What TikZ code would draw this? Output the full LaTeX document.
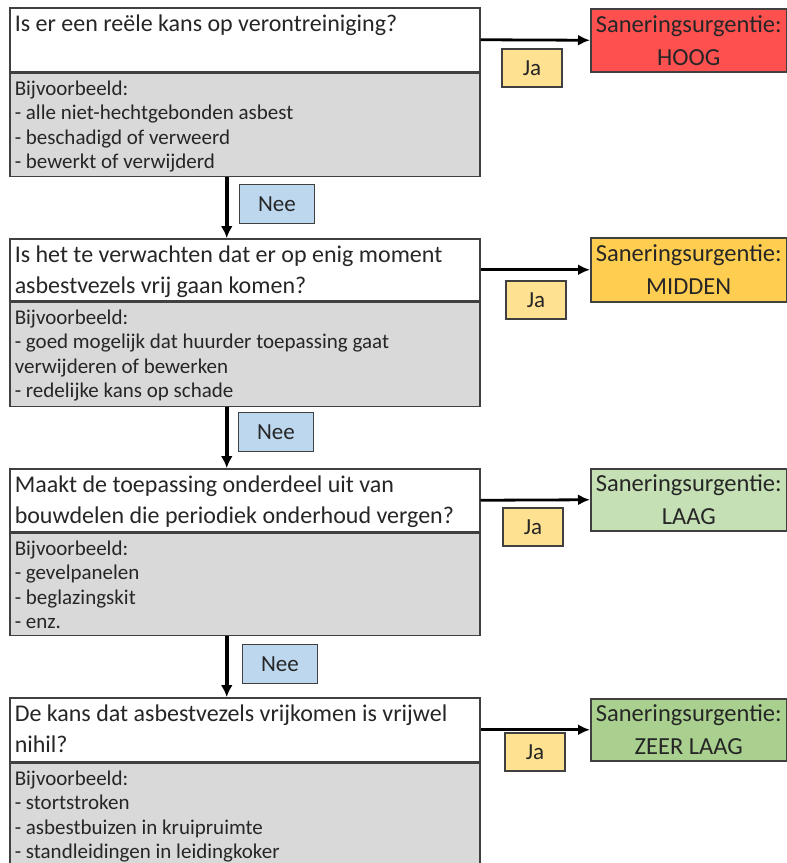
\documentclass[tikz,border=0pt]{standalone}
\usepackage{fontspec}
\setmainfont{Carlito}
\usepackage{xcolor}
\usepackage{tikz}
\usetikzlibrary{arrows.meta}
\definecolor{exgray}{RGB}{217,217,217}
\definecolor{hoog}{RGB}{255,80,80}
\definecolor{midden}{RGB}{255,205,80}
\definecolor{laag}{RGB}{197,224,180}
\definecolor{zeerlaag}{RGB}{169,208,142}
\definecolor{jafill}{RGB}{255,226,145}
\definecolor{neefill}{RGB}{189,215,238}
\definecolor{edge}{RGB}{64,64,64}
\tikzset{
  qbox/.style={draw=edge,line width=1.5pt,fill=white,anchor=north west,inner xsep=5pt,inner ysep=0pt,text=black!85,font=\fontsize{24}{31}\selectfont},
  exbox/.style={qbox,fill=exgray,font=\fontsize{21}{24.5}\selectfont},
  urg/.style={draw=edge,line width=1.5pt,anchor=north west,inner sep=0pt,minimum width=196pt,align=center,text=black!85,font=\fontsize{24.5}{33}\selectfont},
  tag/.style={draw=edge,line width=1.2pt,inner sep=0pt,text=black!85,font=\fontsize{23}{24}\selectfont},
  ja/.style={tag,fill=jafill,minimum width=60pt,minimum height=38pt},
  nee/.style={tag,fill=neefill,minimum width=75pt,minimum height=39pt},
  down/.style={line width=3.5pt,-{Latex[length=12pt,width=12pt]}},
  yes/.style={line width=2.8pt,-{Latex[length=12pt,width=11pt]}}
}
\newcommand{\cellbox}[3]{\parbox[c][#1][t]{460pt}{\raggedright\rule{0pt}{#2}#3}}
\begin{document}
\begin{tikzpicture}[x=1pt,y=-1pt]
\useasboundingbox (0,0) rectangle (787,863);
\clip (0,0) rectangle (787,863);
\node[qbox] (q1) at (9,7) {\cellbox{64pt}{24pt}{Is er een reële kans op verontreiniging?}};
\node[exbox] (ex1) at (q1.south west) {\cellbox{103pt}{22pt}{Bijvoorbeeld:\\- alle niet-hechtgebonden asbest\\- beschadigd of verweerd\\- bewerkt of verwijderd}};
\node[qbox] (q2) at (9,238) {\cellbox{62pt}{24pt}{Is het te verwachten dat er op enig moment\\asbestvezels vrij gaan komen?}};
\node[exbox] (ex2) at (q2.south west) {\cellbox{104pt}{22pt}{Bijvoorbeeld:\\- goed mogelijk dat huurder toepassing gaat\\verwijderen of bewerken\\- redelijke kans op schade}};
\node[qbox] (q3) at (9,468) {\cellbox{63pt}{24pt}{Maakt de toepassing onderdeel uit van\\bouwdelen die periodiek onderhoud vergen?}};
\node[exbox] (ex3) at (q3.south west) {\cellbox{102pt}{22pt}{Bijvoorbeeld:\\- gevelpanelen\\- beglazingskit\\- enz.}};
\node[qbox] (q4) at (9,697) {\cellbox{64pt}{24pt}{De kans dat asbestvezels vrijkomen is vrijwel\\nihil?}};
\node[exbox] (ex4) at (q4.south west) {\cellbox{110pt}{22pt}{Bijvoorbeeld:\\- stortstroken\\- asbestbuizen in kruipruimte\\- standleidingen in leidingkoker}};
\node[urg,fill=hoog,minimum height=63pt] (r1) at (590,8) {Saneringsurgentie:\\HOOG};
\node[urg,fill=midden,minimum height=64pt] (r2) at (590,237) {Saneringsurgentie:\\MIDDEN};
\node[urg,fill=laag,minimum height=62pt] (r3) at (590,468) {Saneringsurgentie:\\LAAG};
\node[urg,fill=zeerlaag,minimum height=62pt] (r4) at (590,698) {Saneringsurgentie:\\ZEER LAAG};
\draw[yes] (q1.east) -- (r1.west);
\draw[yes] (q2.east) -- (r2.west);
\draw[yes] (q3.east) -- (r3.west);
\draw[yes] (q4.east) -- (r4.west);
\node[ja] (ja1) at (532,68) {Ja};
\node[ja] (ja2) at (536,300) {Ja};
\node[ja] (ja3) at (533,527) {Ja};
\node[ja] (ja4) at (535,752) {Ja};
\draw[down] ([xshift=-18pt]ex1.south) -- ([xshift=-18pt]q2.north);
\draw[down] ([xshift=-18pt]ex2.south) -- ([xshift=-18pt]q3.north);
\draw[down] ([xshift=-18pt]ex3.south) -- ([xshift=-18pt]q4.north);
\node[nee] (nee1) at (277,204) {Nee};
\node[nee] (nee2) at (276,432) {Nee};
\node[nee] (nee3) at (280,664) {Nee};
\end{tikzpicture}
\end{document}
